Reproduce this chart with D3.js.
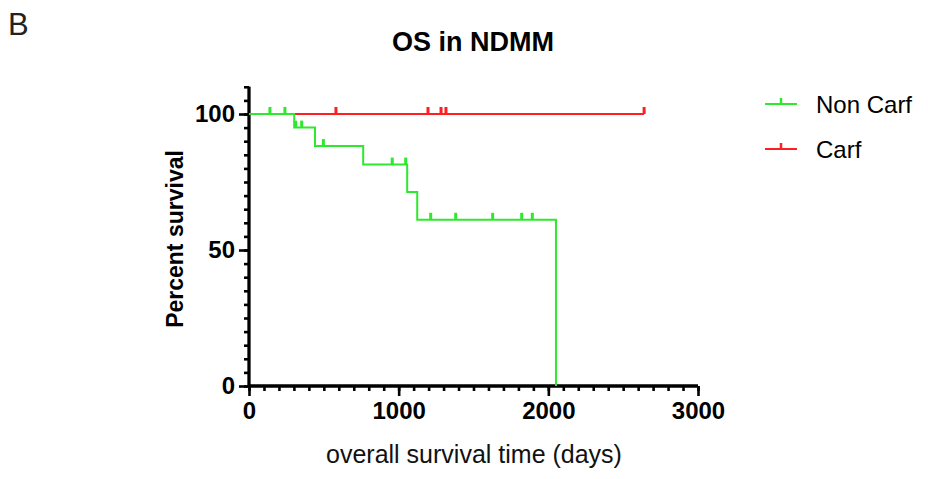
<!DOCTYPE html>
<html>
<head>
<meta charset="utf-8">
<script src="https://cdn.jsdelivr.net/npm/d3@7"></script>
<style>
  body { margin: 0; background: #fff; }
  svg { display: block; font-family: "Liberation Sans", Arial, sans-serif; }
</style>
</head>
<body>
<div id="chart"></div>
<script>
// Kaplan-Meier steps
const nonCarfDays = [0, 302, 441, 763, 1057, 1124, 2051];
const nonCarfSurv = [100, 95, 88.2, 81.4, 71.3, 61.1, 0];
const nonCarfCensored = [140, 240, 312, 352, 497, 957, 1047, 1214, 1381, 1628, 1822, 1893];

const carfDays = [0, 2640];
const carfSurv = [100, 100];
const carfCensored = [581, 1196, 1283, 1316, 2640];

const xTicks = [0, 1000, 2000, 3000];
const yTicks = [0, 50, 100];

const width = 928, height = 479;

const svg = d3.select("#chart")
  .append("svg")
  .attr("width", width)
  .attr("height", height)
  .attr("viewBox", [0, 0, width, height]);

const x = d3.scaleLinear().domain([0, 3000]).range([249, 698]);
const y = d3.scaleLinear().domain([0, 110]).range([386, 86.8]);

const series = [
  { name: "Carf", color: "#ff1f1f", days: carfDays, surv: carfSurv, censored: carfCensored },
  { name: "Non Carf", color: "#2ee82e", days: nonCarfDays, surv: nonCarfSurv, censored: nonCarfCensored }
];

// survival value at time t (step function)
function survAt(s, t) {
  let v = s.surv[0];
  for (let i = 0; i < s.days.length; i++) {
    if (s.days[i] <= t) v = s.surv[i];
  }
  return v;
}

const line = d3.line()
  .x(d => x(d[0]))
  .y(d => y(d[1]))
  .curve(d3.curveStepAfter);

// axes
const xAxis = svg.append("g").attr("transform", `translate(0,${y(0)})`);
xAxis.call(d3.axisBottom(x).tickValues(d3.range(0, 3001, 100)).tickSize(5).tickFormat(""));
xAxis.call(g => g.append("g").call(d3.axisBottom(x).tickValues(xTicks).tickSize(10).tickPadding(6).tickFormat(d3.format("d"))));

const yAxis = svg.append("g").attr("transform", `translate(${x(0)},0)`);
yAxis.call(d3.axisLeft(y).tickValues(d3.range(0, 111, 5)).tickSize(5).tickFormat(""));
yAxis.call(g => g.append("g").call(d3.axisLeft(y).tickValues(yTicks).tickSize(10).tickPadding(4).tickFormat(d3.format("d"))));

svg.selectAll(".domain").attr("stroke", "#000").attr("stroke-width", 2.8);
svg.selectAll(".tick line").attr("stroke", "#000").attr("stroke-width", 2.6);
svg.selectAll(".tick text")
  .attr("fill", "#000")
  .style("font-size", "24px")
  .style("font-weight", "bold");
xAxis.selectAll(".domain").attr("d", `M${x(0)},0H${x(3000)}`);
yAxis.selectAll(".domain").attr("d", `M0,${y(110)}V${y(0) + 1}`);

// curves
for (const s of series) {
  const pts = s.days.map((d, i) => [d, s.surv[i]]);
  svg.append("path")
    .attr("d", line(pts))
    .attr("fill", "none")
    .attr("stroke", s.color)
    .attr("stroke-width", 2);

  svg.append("g")
    .selectAll("line")
    .data(s.censored)
    .join("line")
    .attr("x1", d => x(d))
    .attr("x2", d => x(d))
    .attr("y1", d => y(survAt(s, d)))
    .attr("y2", d => y(survAt(s, d)) - 7)
    .attr("stroke", s.color)
    .attr("stroke-width", 3);
}

// legend
const legend = svg.append("g");
[series[1], series[0]].forEach((s, i) => {
  const ly = 104 + i * 45;
  legend.append("line")
    .attr("x1", 765).attr("x2", 797).attr("y1", ly).attr("y2", ly)
    .attr("stroke", s.color).attr("stroke-width", 2);
  legend.append("line")
    .attr("x1", 781).attr("x2", 781).attr("y1", ly).attr("y2", ly - 6)
    .attr("stroke", s.color).attr("stroke-width", 2.5);
  legend.append("text")
    .attr("x", 816).attr("y", ly + 9)
    .style("font-size", "24px")
    .text(s.name);
});

// titles
svg.append("text")
  .attr("x", 8).attr("y", 35)
  .style("font-size", "31px")
  .attr("fill", "#222")
  .text("B");

svg.append("text")
  .attr("x", 473).attr("y", 51)
  .attr("text-anchor", "middle")
  .style("font-size", "27px")
  .style("font-weight", "bold")
  .text("OS in NDMM");

svg.append("text")
  .attr("transform", `translate(183,239) rotate(-90)`)
  .attr("text-anchor", "middle")
  .style("font-size", "23px")
  .style("font-weight", "bold")
  .text("Percent survival");

svg.append("text")
  .attr("x", 474).attr("y", 463)
  .attr("text-anchor", "middle")
  .style("font-size", "25px")
  .attr("fill", "#111")
  .text("overall survival time (days)");
</script>
</body>
</html>
